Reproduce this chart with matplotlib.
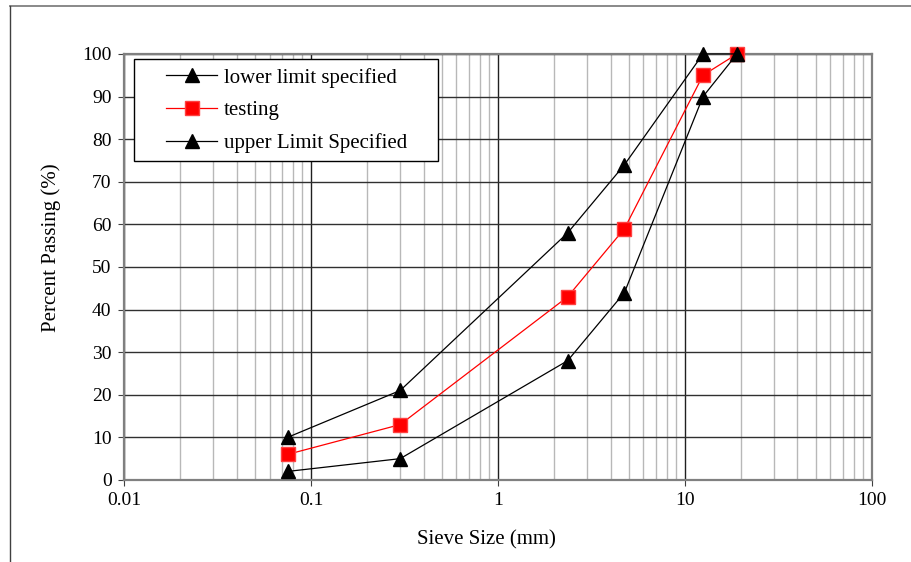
import numpy as np
import matplotlib
matplotlib.use('Agg')
import matplotlib.pyplot as plt
from matplotlib.lines import Line2D
from matplotlib.ticker import LogLocator, FixedLocator
from matplotlib.legend_handler import HandlerLine2D

plt.rcParams['font.family'] = ['Liberation Serif', 'DejaVu Serif']

sieve = [0.075, 0.3, 2.36, 4.75, 12.5, 19]
lower = [2, 5, 28, 44, 90, 100]
testing = [6, 13, 43, 59, 95, 100]
upper = [10, 21, 58, 74, 100, 100]

names = ['lower limit specified', 'testing', 'upper Limit Specified']
x_ticks = [0.01, 0.1, 1, 10, 100]
x_labels = ['0.01', '0.1', '1', '10', '100']
y_ticks = list(range(0, 101, 10))


class ShiftedHandler(HandlerLine2D):
    # legend line drawn only in the right part of the handle box,
    # leaves empty room on the left like the original
    def create_artists(self, legend, orig_handle, xdescent, ydescent,
                       width, height, fontsize, trans):
        arts = super().create_artists(legend, orig_handle, xdescent, ydescent,
                                      width, height, fontsize, trans)
        x0 = -xdescent + 0.32 * width
        x1 = -xdescent + width
        for a in arts:
            n = len(a.get_xdata())
            if n == 1:
                a.set_xdata([0.5 * (x0 + x1)])
            else:
                a.set_xdata(np.linspace(x0, x1, n))
        return arts


fig = plt.figure(figsize=(9.12, 5.62), dpi=100)
ax = fig.add_axes([0.136, 0.146, 0.820, 0.758])

# frame round the figure: only top and left show
fig.add_artist(Line2D([0.011, 1.0], [0.989, 0.989], transform=fig.transFigure,
                      color='#808080', lw=1.3))
fig.add_artist(Line2D([0.011, 0.011], [0.0, 0.989], transform=fig.transFigure,
                      color='#404040', lw=1.0))

ax.set_xscale('log')
ax.set_xlim(0.01, 100)
ax.set_ylim(0, 100)

ax.xaxis.set_major_locator(FixedLocator(x_ticks))
ax.set_xticklabels(x_labels)
ax.xaxis.set_minor_locator(LogLocator(base=10, subs=np.arange(2, 10)))
ax.xaxis.set_minor_formatter(plt.NullFormatter())
ax.set_yticks(y_ticks)

ax.grid(True, which='minor', axis='x', color='#b8b8b8', lw=1.0)
ax.grid(True, which='major', axis='x', color='#202020', lw=1.0)
ax.grid(True, which='major', axis='y', color='#303030', lw=1.0)
ax.set_axisbelow(True)

for s in ax.spines.values():
    s.set_color('#808080')
    s.set_linewidth(1.6)

ax.tick_params(axis='both', which='major', direction='out', length=4,
               color='#404040', labelsize=14, pad=5)
ax.tick_params(axis='x', which='minor', length=0)

l1, = ax.plot(sieve, lower, color='black', lw=0.9, marker='^', ms=10,
              mfc='black', mec='black', label=names[0], clip_on=False, zorder=3)
l2, = ax.plot(sieve, testing, color='red', lw=0.9, marker='s', ms=10,
              mfc='red', mec='#ff4040', label=names[1], clip_on=False, zorder=3)
l3, = ax.plot(sieve, upper, color='black', lw=0.9, marker='^', ms=10,
              mfc='black', mec='black', label=names[2], clip_on=False, zorder=4)

ax.set_xlabel('Sieve Size (mm)', fontsize=15)
ax.set_ylabel('Percent Passing (%)', fontsize=15)
ax.xaxis.set_label_coords(0.485, -0.117)
ax.yaxis.set_label_coords(-0.084, 0.545)

leg = ax.legend(loc='upper left', bbox_to_anchor=(0.0134, 0.5, 0.4064, 0.487),
                mode='expand', fontsize=15, frameon=True, fancybox=False,
                edgecolor='black', borderpad=0.4, handlelength=3.6,
                handletextpad=0.3, labelspacing=0.62, borderaxespad=0,
                handler_map={l1: ShiftedHandler(), l2: ShiftedHandler(),
                             l3: ShiftedHandler()})
leg.get_frame().set_linewidth(1.0)
leg.get_frame().set_alpha(1)

fig.savefig('out.png', dpi=100)
